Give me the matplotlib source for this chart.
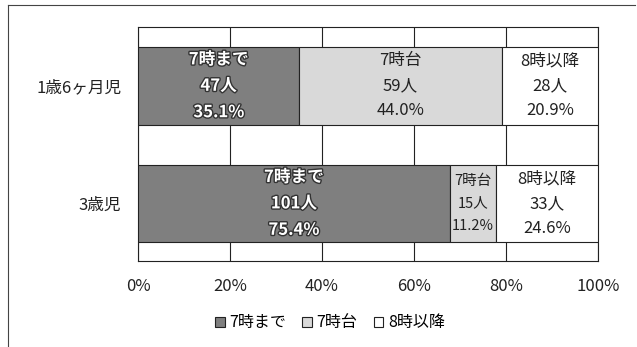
import matplotlib.pyplot as plt
import matplotlib.patheffects as pe
from matplotlib.lines import Line2D
import numpy as np

plt.rcParams['font.family'] = ['Noto Sans CJK JP', 'DejaVu Sans']

groups = ['1歳6ヶ月児', '3歳児']
cats = ['7時まで', '7時台', '8時以降']
counts_18m = [47, 59, 28]
counts_3y = [101, 15, 33]
pct_18m = ['35.1%', '44.0%', '20.9%']
pct_3y = ['75.4%', '11.2%', '24.6%']
colors = ['#7f7f7f', '#d9d9d9', '#ffffff']

counts = np.array([counts_18m, counts_3y], dtype=float)
shares = counts / counts.sum(axis=1, keepdims=True) * 100
pcts = [pct_18m, pct_3y]

fig = plt.figure(figsize=(6.37, 3.47), dpi=100)
ax = fig.add_axes([138 / 637, 1 - 261 / 347, 460 / 637, 234 / 347])

ypos = np.arange(len(groups))
left = np.zeros(len(groups))
for j, cat in enumerate(cats):
    ax.barh(ypos, shares[:, j], left=left, height=0.66, color=colors[j],
            edgecolor='#222222', linewidth=0.8, label=cat, zorder=3)
    for i in range(len(groups)):
        txt = '%s\n%d人\n%s' % (cat, counts[i, j], pcts[i][j])
        x = left[i] + shares[i, j] / 2
        if j == 0:
            ax.text(x, ypos[i], txt, ha='center', va='center', fontsize=12,
                    color='white', fontweight='bold', linespacing=1.6, zorder=4,
                    path_effects=[pe.withStroke(linewidth=2, foreground='#333333')])
        else:
            fs = 12 if shares[i, j] > 15 else 10.5
            ax.text(x, ypos[i], txt, ha='center', va='center', fontsize=fs,
                    color='#222222', linespacing=1.6 if fs == 12 else 1.75, zorder=4)
    left += shares[:, j]

ax.set_xlim(0, 100)
ax.set_ylim(1.49, -0.5)
ax.set_xticks([0, 20, 40, 60, 80, 100])
ax.set_xticklabels(['0%', '20%', '40%', '60%', '80%', '100%'], fontsize=12)
ax.set_yticks(ypos)
ax.set_yticklabels(groups, fontsize=12)
ax.tick_params(length=0, pad=12, colors='#222222')
ax.xaxis.grid(True, color='#222222', linewidth=0.8, zorder=0)
ax.set_axisbelow(True)
for s in ax.spines.values():
    s.set_color('#222222')
    s.set_linewidth(0.8)

fig.legend(loc='center', bbox_to_anchor=(330 / 637, 1 - 323 / 347), ncol=3,
           frameon=False, fontsize=11.5, handlelength=0.6, handleheight=0.6,
           handletextpad=0.3, columnspacing=1.0)

# scanned page border (top and left only)
fig.add_artist(Line2D([8 / 637, 635 / 637], [1 - 5 / 347, 1 - 5 / 347],
                      transform=fig.transFigure, color='#444444', lw=0.8))
fig.add_artist(Line2D([8 / 637, 8 / 637], [1 - 5 / 347, 0],
                      transform=fig.transFigure, color='#444444', lw=0.8))

fig.savefig('out.png', dpi=100)
